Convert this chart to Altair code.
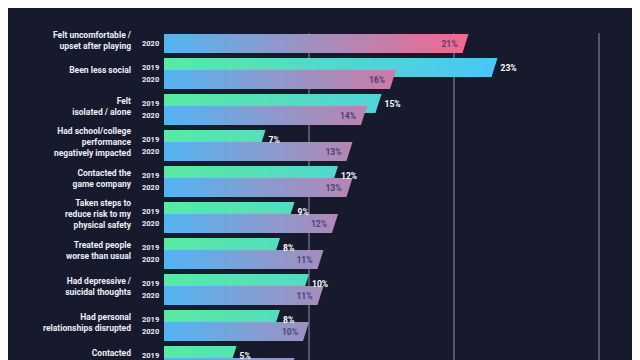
import altair as alt
import pandas as pd
import numpy as np

# ---- data ----
categories = [
    "Felt uncomfortable /\nupset after playing",
    "Been less social",
    "Felt\nisolated / alone",
    "Had school/college\nperformance\nnegatively impacted",
    "Contacted the\ngame company",
    "Taken steps to\nreduce risk to my\nphysical safety",
    "Treated people\nworse than usual",
    "Had depressive /\nsuicidal thoughts",
    "Had personal\nrelationships disrupted",
    "Contacted\nthe police",
]
values_2019 = [None, 23, 15, 7, 12, 9, 8, 10, 8, 5]
values_2020 = [21, 16, 14, 13, 13, 12, 11, 11, 10, 9]
years = [2019, 2020]
grid_ticks = [10, 20, 30]

# ---- layout (in "group" units: 1 unit = one group row) ----
ROW_PX = 36.0
SLOT = 12 / ROW_PX      # 2020 bar offset within a group
BAR_H = 19 / ROW_PX     # bar thickness
PLOT_H = 338
Y_MAX = PLOT_H / ROW_PX
SLANT = 0.45            # value units taken by slanted end
STEP = 0.2              # gradient rendering step
LINE_PX = 11            # line height of the category labels

rows = []
for g, cat in enumerate(categories):
    for yr, vals in zip(years, [values_2019, values_2020]):
        v = vals[g]
        if v is None:
            continue
        top = g + (SLOT if yr == 2020 else 0.0)
        rows.append(dict(group=g, category=cat, year=yr, year_txt=str(yr), value=v,
                         label=f"{v}%", top=top, bottom=top + BAR_H,
                         mid=top + BAR_H / 2, start=0.0))
bars = pd.DataFrame(rows)

segs = []
for r in rows:
    for e in np.arange(r["value"] - SLANT, 0, -STEP):
        segs.append(dict(year=r["year"], start=0.0, end=float(e),
                         top=r["top"], bottom=r["bottom"]))
segs = pd.DataFrame(segs)

cat_rows = []
for g, cat in enumerate(categories):
    mids = bars.loc[bars.group == g, "mid"]
    n_lines = cat.count("\n") + 1
    center = mids.mean() - 3.5 / ROW_PX
    cat_rows.append(dict(category=cat,
                         ly=center - (n_lines - 1) * LINE_PX / 2 / ROW_PX))
cats = pd.DataFrame(cat_rows)

grid = pd.DataFrame(dict(tick=grid_ticks, y1=[0.31] * 3, y2=[Y_MAX] * 3))

xs = alt.Scale(domain=[0, 30], nice=False, zero=False)
ys = alt.Scale(domain=[0, Y_MAX], reverse=True, nice=False, zero=False)
c19 = alt.Scale(domain=[0, 23], range=["#5aeaa0", "#4ac6f8"], clamp=True,
                interpolate="rgb")
c20 = alt.Scale(domain=[0, 21], range=["#52b5f1", "#f2698e"], clamp=True,
                interpolate="rgb")

rules = alt.Chart(grid).mark_rule(color="#8e92aa", strokeWidth=1).encode(
    x=alt.X("tick:Q", scale=xs, axis=None),
    y=alt.Y("y1:Q", scale=ys, axis=None),
    y2="y2:Q",
)

def seg_layer(yr, cs):
    return alt.Chart(segs).transform_filter(alt.datum.year == yr).mark_bar(
        opacity=1, strokeWidth=0
    ).encode(
        x=alt.X("start:Q", scale=xs, axis=None),
        x2="end:Q",
        y=alt.Y("top:Q", scale=ys, axis=None),
        y2="bottom:Q",
        color=alt.Color("end:Q", scale=cs, legend=None),
    )

def tri_layer(yr, cs):
    return alt.Chart(bars).transform_filter(alt.datum.year == yr).mark_point(
        shape="M-1,-1L0,-1L-0.632,1L-1,1Z", filled=True, opacity=1,
        strokeWidth=0, size=361
    ).encode(
        x=alt.X("value:Q", scale=xs, axis=None),
        y=alt.Y("mid:Q", scale=ys, axis=None),
        color=alt.Color("value:Q", scale=cs, legend=None),
    )

FONT = "Roboto"

cat_text = alt.Chart(cats).mark_text(
    align="right", baseline="middle", lineBreak="\n", lineHeight=LINE_PX,
    font=FONT, fontWeight="bold", fontSize=8.5, color="#eceef4"
).encode(
    x=alt.value(-33),
    y=alt.Y("ly:Q", scale=ys, axis=None),
    text="category:N",
)

year_text = alt.Chart(bars).mark_text(
    align="left", baseline="middle", font=FONT, fontWeight="bold",
    fontSize=7.5, color="#eceef4"
).encode(
    x=alt.value(-22),
    y=alt.Y("mid:Q", scale=ys, axis=None),
    text="year_txt:N",
)

val19 = alt.Chart(bars).transform_filter(alt.datum.year == 2019).mark_text(
    align="left", baseline="middle", dx=3, font=FONT, fontWeight="bold",
    fontSize=8.5, color="#ffffff"
).encode(
    x=alt.X("value:Q", scale=xs, axis=None),
    y=alt.Y("mid:Q", scale=ys, axis=None),
    text="label:N",
)

val20 = alt.Chart(bars).transform_filter(alt.datum.year == 2020).mark_text(
    align="right", baseline="middle", dx=-11, font=FONT, fontWeight="bold",
    fontSize=8.5, color="#3a3470", opacity=0.85
).encode(
    x=alt.X("value:Q", scale=xs, axis=None),
    y=alt.Y("mid:Q", scale=ys, axis=None),
    text="label:N",
)

chart = alt.layer(
    rules,
    seg_layer(2019, c19), tri_layer(2019, c19),
    seg_layer(2020, c20), tri_layer(2020, c20),
    cat_text, year_text, val19, val20,
).resolve_scale(color="independent").properties(
    width=435, height=PLOT_H,
    autosize=alt.AutoSizeParams(type="none"),
    padding={"left": 156, "top": 14, "right": 33, "bottom": 0},
    background="#161a2c",
).configure_view(stroke=None)

chart.save("out.html", embed_options={"renderer": "svg", "actions": False})
